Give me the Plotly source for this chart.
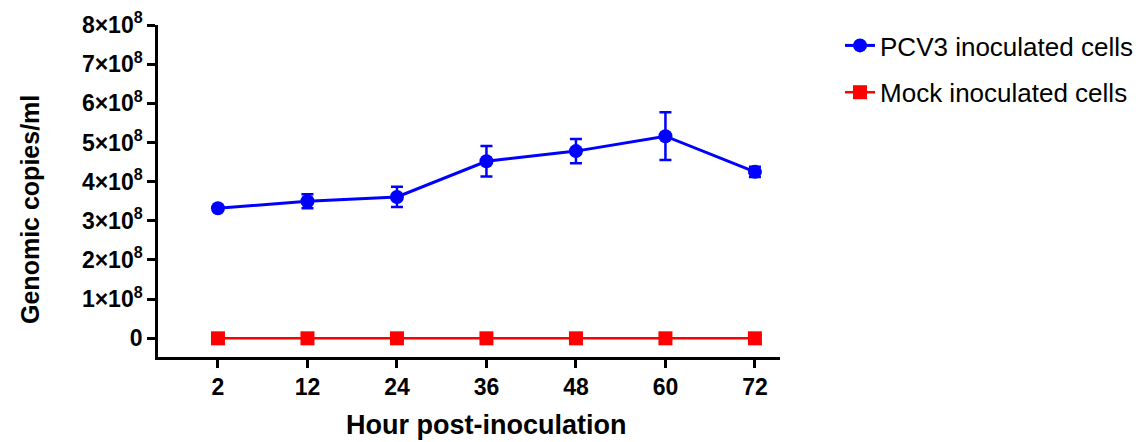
import plotly.graph_objects as go

hours = ["2", "12", "24", "36", "48", "60", "72"]
pcv3_mean = [3.32e8, 3.50e8, 3.61e8, 4.52e8, 4.78e8, 5.16e8, 4.25e8]
pcv3_err = [0.03e8, 0.18e8, 0.26e8, 0.39e8, 0.31e8, 0.61e8, 0.13e8]
mock_mean = [0, 0, 0, 0, 0, 0, 0]
mock_err = [0, 0, 0, 0, 0, 0, 0]
y_tickvals = [0, 1e8, 2e8, 3e8, 4e8, 5e8, 6e8, 7e8, 8e8]
y_ticktext = ["0"] + [f"{i}×10<sup>8</sup>" for i in range(1, 9)]
x_title = "Hour post-inoculation"
y_title = "Genomic copies/ml"

xidx = list(range(len(hours)))
FONT = "Arial, Liberation Sans, sans-serif"

fig = go.Figure()
fig.add_trace(go.Scatter(
    x=xidx, y=pcv3_mean, name="PCV3 inoculated cells", mode="lines+markers",
    line=dict(color="#0000ff", width=3),
    marker=dict(symbol="circle", size=14, color="#0000ff"),
    error_y=dict(type="data", array=pcv3_err, visible=True, color="#0000ff",
                 thickness=2.5, width=6),
    legendgroup="a",
))
fig.add_trace(go.Scatter(
    x=xidx, y=mock_mean, name="Mock inoculated cells", mode="lines+markers",
    line=dict(color="#ff0000", width=2.5),
    marker=dict(symbol="square", size=14, color="#ff0000"),
    error_y=dict(type="data", array=mock_err, visible=True, color="#ff0000",
                 thickness=2.5, width=6),
    legendgroup="b",
))

fig.update_layout(
    width=1146, height=442,
    margin=dict(l=150, r=374, t=17, b=93, autoexpand=False),
    paper_bgcolor="white", plot_bgcolor="white",
    font=dict(family=FONT, color="black"),
    showlegend=True,
    legend=dict(x=1.0965, y=1.009, xanchor="left", yanchor="top",
                font=dict(size=26, family=FONT, color="black"),
                tracegroupgap=10, itemwidth=30, bgcolor="rgba(0,0,0,0)"),
    xaxis=dict(
        range=[-0.67, 6.28], tickmode="array", tickvals=xidx, ticktext=hours,
        showline=True, linecolor="black", linewidth=2.5, mirror=False,
        ticks="outside", ticklen=8, tickwidth=3, tickcolor="black",
        showgrid=False, zeroline=False,
        tickfont=dict(size=23, family=FONT, color="black", weight="bold"),
    ),
    yaxis=dict(
        range=[-0.477e8, 8e8], tickmode="array", tickvals=y_tickvals, ticktext=y_ticktext,
        showline=True, linecolor="black", linewidth=2.5,
        ticks="outside", ticklen=8, tickwidth=2.5, tickcolor="black",
        showgrid=False, zeroline=False,
        tickfont=dict(size=23, family=FONT, color="black", weight="bold"),
    ),
    annotations=[
        dict(text=f"<b>{x_title}</b>", xref="paper", yref="paper",
             x=0.5273, y=-0.2048, xanchor="center", yanchor="middle",
             showarrow=False, font=dict(size=27, family=FONT, color="black")),
        dict(text=f"<b>{y_title}</b>", xref="paper", yref="paper",
             x=-0.2058, y=0.4458, xanchor="center", yanchor="middle",
             textangle=-90, showarrow=False,
             font=dict(size=25, family=FONT, color="black")),
    ],
)

fig.write_html("out.html")
